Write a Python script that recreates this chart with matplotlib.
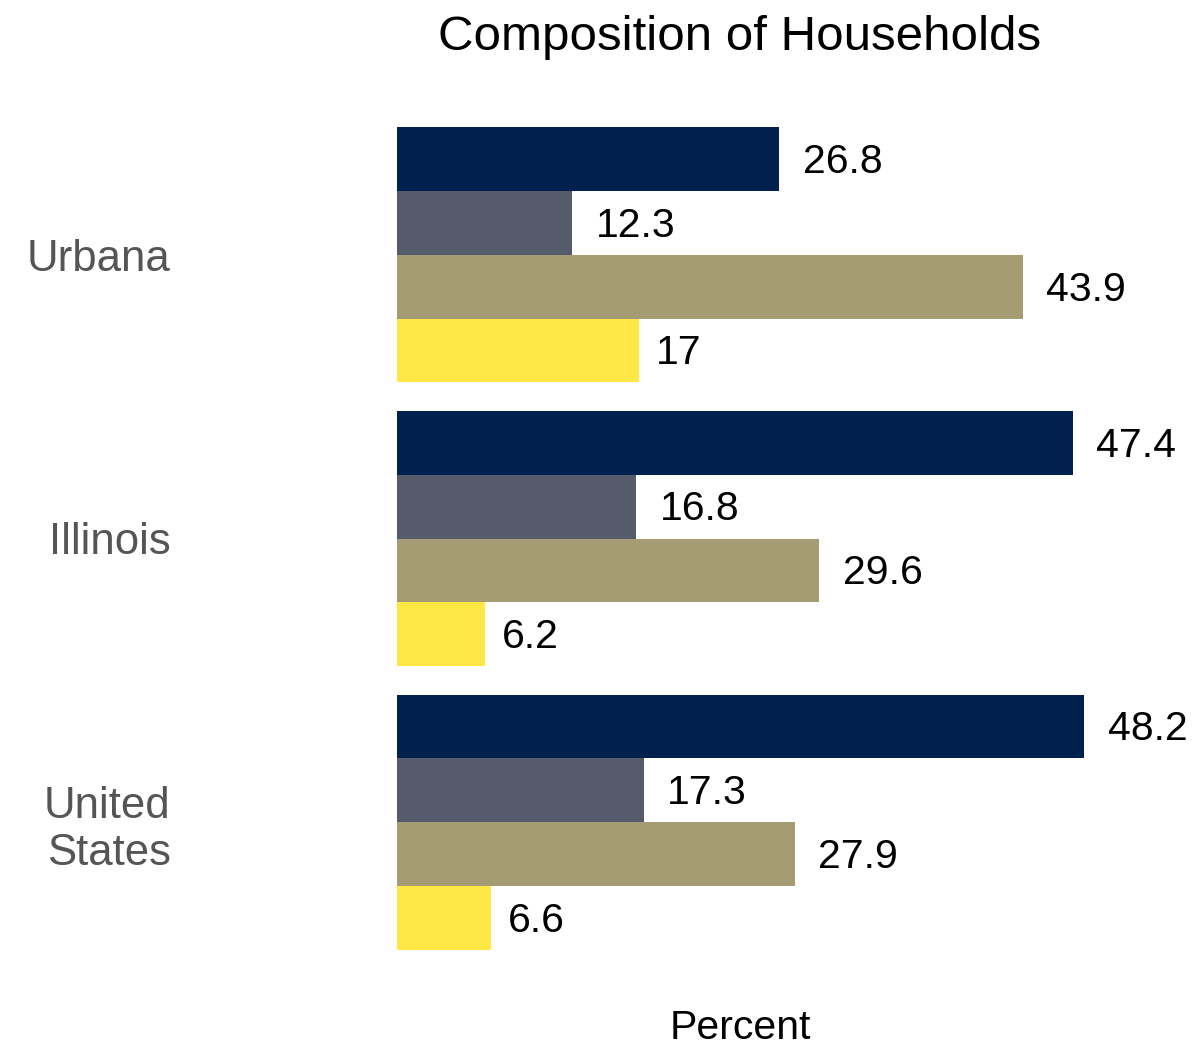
import numpy as np
import matplotlib
matplotlib.use('Agg')
import matplotlib.pyplot as plt

plt.rcParams['font.family'] = ['Liberation Sans', 'DejaVu Sans']

# 데이터
places = ['Urbana', 'Illinois', 'United\nStates']
series = ['Married couple', 'Other family', 'Nonfamily living alone', 'Nonfamily other']
values = [
    [26.8, 47.4, 48.2],
    [12.3, 16.8, 17.3],
    [43.9, 29.6, 27.9],
    [17, 6.2, 6.6],
]
labels = [
    ['26.8', '47.4', '48.2'],
    ['12.3', '16.8', '17.3'],
    ['43.9', '29.6', '27.9'],
    ['17', '6.2', '6.6'],
]
colors = ['#00214D', '#565B6C', '#A69C73', '#FFE845']

fig = plt.figure(figsize=(11.93, 10.5), dpi=100)
W, H = 1193, 1050
ax = fig.add_axes([397 / W, (H - 964) / H, (1084 - 397) / W, (964 - 113) / H])

y = np.arange(len(places))
h = 0.225
for i, (vals, c) in enumerate(zip(values, colors)):
    pos = y + (i - 1.5) * h
    ax.barh(pos, vals, height=h, color=c, label=series[i])
    for p, v, t in zip(pos, vals, labels[i]):
        off = 12 if len(t) <= 3 else 17
        ax.annotate(t, (v, p), xytext=(off, -2), textcoords='offset points',
                    ha='left', va='center', fontsize=29.5, color='black')

ax.set_xlim(0, 48.2)
ax.set_ylim(2.5, -0.5)
ax.set_yticks(y)
ax.set_yticklabels(places, fontsize=31.5, color='#555555', ha='right', linespacing=1.2)
ax.tick_params(axis='y', length=0, pad=163)
ax.set_xticks([])
for s in ax.spines.values():
    s.set_visible(False)

fig.text(740 / W, 1 - 38 / H, 'Composition of Households', ha='center', va='center', fontsize=35.5)
fig.text(740 / W, 1 - 1028 / H, 'Percent', ha='center', va='center', fontsize=29.5)

fig.savefig('out.png', dpi=100)
